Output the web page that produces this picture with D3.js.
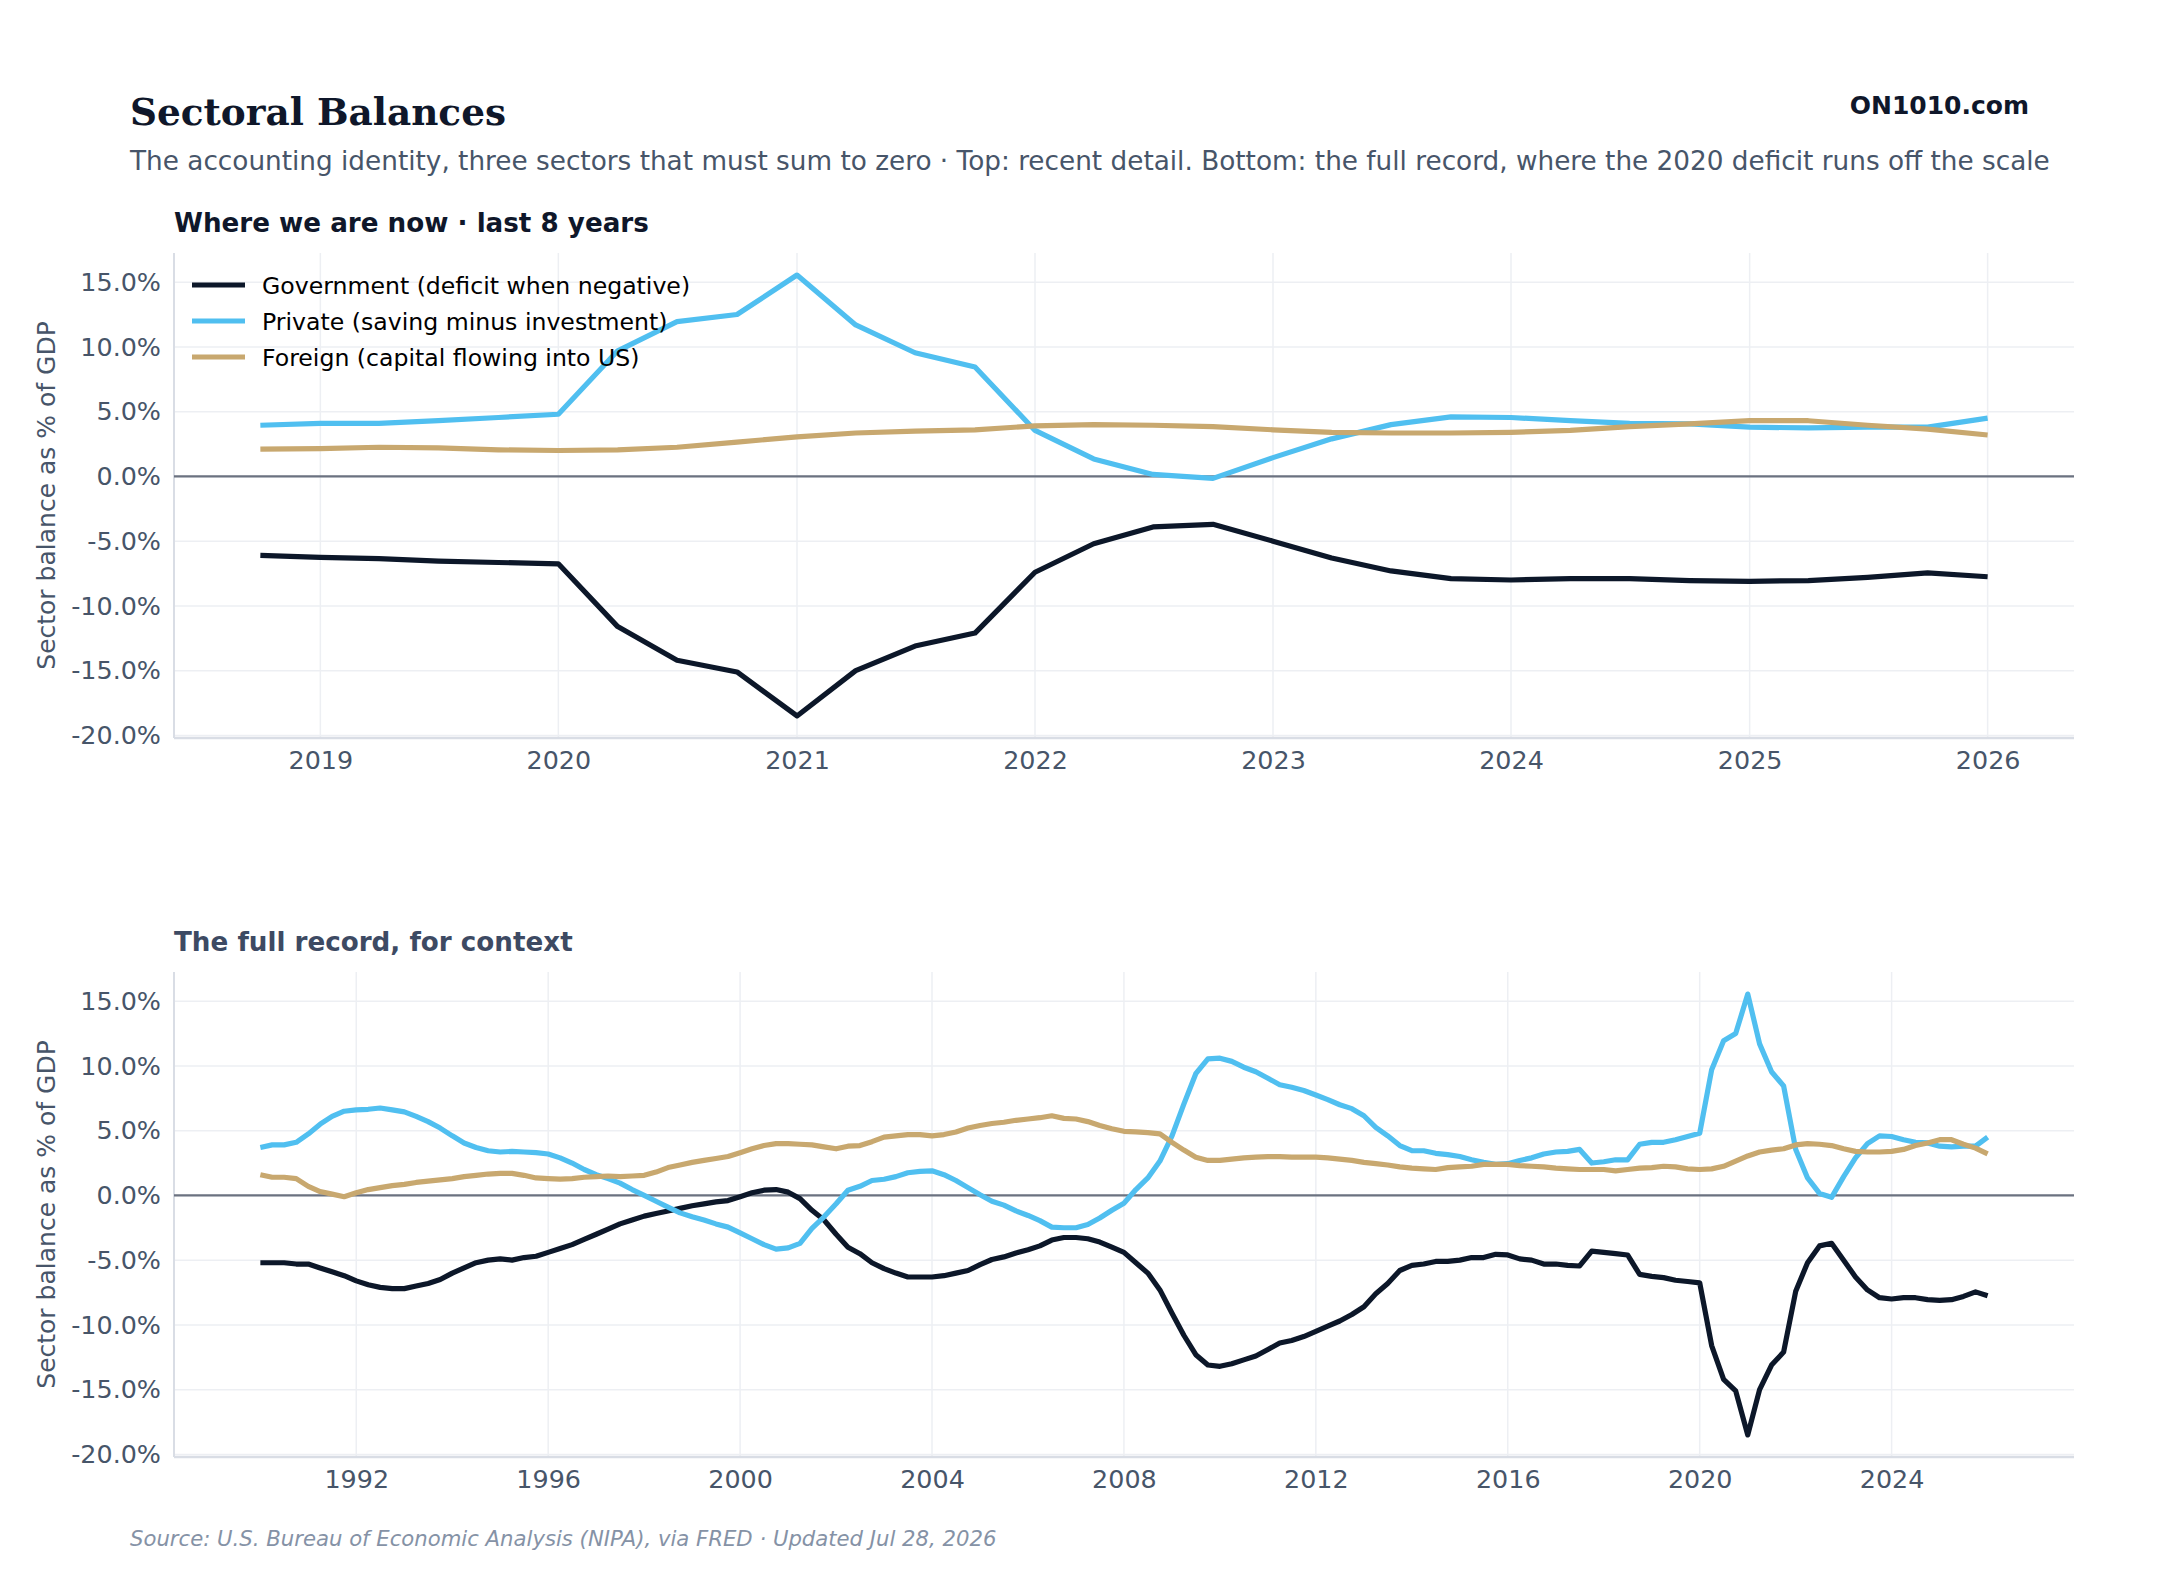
<!DOCTYPE html>
<html>
<head>
<meta charset="utf-8">
<script src="https://cdn.jsdelivr.net/npm/d3@7.9.0/dist/d3.min.js"></script>
<style>
  body { margin: 0; background: #fff; }
  svg { display: block; font-family: "DejaVu Sans", sans-serif; }
</style>
</head>
<body>
<svg id="chart" width="2160" height="1584"></svg>
<script>
// Quarterly sector balances, % of GDP, from 1990 Q1 to 2026 Q1
const firstYear = 1990;

const government = [
  -5.2, -5.2, -5.2, -5.3,     // 1990
  -5.3, -5.6, -5.9, -6.2,     // 1991
  -6.6, -6.9, -7.1, -7.2,     // 1992
  -7.2, -7.0, -6.8, -6.5,     // 1993
  -6.0, -5.6, -5.2, -5.0,     // 1994
  -4.9, -5.0, -4.8, -4.7,     // 1995
  -4.4, -4.1, -3.8, -3.4,     // 1996
  -3.0, -2.6, -2.2, -1.9,     // 1997
  -1.6, -1.4, -1.2, -1.0,     // 1998
  -0.8, -0.65, -0.5, -0.4,    // 1999
  -0.1, 0.2, 0.4, 0.45,       // 2000
  0.25, -0.25, -1.15, -1.9,   // 2001
  -3.0, -4.0, -4.5, -5.2,     // 2002
  -5.65, -6.0, -6.3, -6.3,    // 2003
  -6.3, -6.2, -6.0, -5.8,     // 2004
  -5.35, -4.95, -4.75, -4.45, // 2005
  -4.2, -3.9, -3.45, -3.25,   // 2006
  -3.25, -3.35, -3.6, -4.0,   // 2007
  -4.4, -5.2, -6.0, -7.3,     // 2008
  -9.1, -10.8, -12.3, -13.1,  // 2009
  -13.2, -13.0, -12.7, -12.4, // 2010
  -11.9, -11.4, -11.2, -10.9, // 2011
  -10.5, -10.1, -9.7, -9.2,   // 2012
  -8.6, -7.6, -6.8, -5.8,     // 2013
  -5.4, -5.3, -5.1, -5.1,     // 2014
  -5.0, -4.8, -4.8, -4.55,    // 2015
  -4.6, -4.9, -5.0, -5.3,     // 2016
  -5.3, -5.4, -5.45, -4.3,    // 2017
  -4.4, -4.5, -4.6, -6.1,     // 2018
  -6.25, -6.35, -6.55, -6.65, // 2019
  -6.75, -11.6, -14.2, -15.1, // 2020
  -18.5, -15.0, -13.1, -12.1, // 2021
  -7.4, -5.2, -3.9, -3.7,     // 2022
  -5.0, -6.3, -7.3, -7.9,     // 2023
  -8.0, -7.9, -7.9, -8.05,    // 2024
  -8.1, -8.05, -7.8, -7.45,   // 2025
  -7.75                       // 2026
];

const privateSector = [
  3.7, 3.9, 3.9, 4.1,         // 1990
  4.75, 5.5, 6.1, 6.5,        // 1991
  6.6, 6.65, 6.75, 6.6,       // 1992
  6.45, 6.1, 5.7, 5.2,        // 1993
  4.6, 4.05, 3.7, 3.45,       // 1994
  3.35, 3.4, 3.35, 3.3,       // 1995
  3.2, 2.9, 2.5, 2.0,         // 1996
  1.6, 1.3, 0.95, 0.45,       // 1997
  0.0, -0.45, -0.9, -1.35,    // 1998
  -1.65, -1.9, -2.2, -2.45,   // 1999
  -2.9, -3.35, -3.8, -4.15,   // 2000
  -4.05, -3.7, -2.55, -1.65,  // 2001
  -0.65, 0.4, 0.7, 1.15,      // 2002
  1.25, 1.45, 1.75, 1.85,     // 2003
  1.9, 1.6, 1.15, 0.6,        // 2004
  0.05, -0.45, -0.75, -1.2,   // 2005
  -1.55, -1.95, -2.45, -2.5,  // 2006
  -2.5, -2.25, -1.75, -1.15,  // 2007
  -0.6, 0.45, 1.35, 2.65,     // 2008
  4.6, 7.05, 9.4, 10.55,      // 2009
  10.6, 10.35, 9.9, 9.55,     // 2010
  9.05, 8.55, 8.35, 8.1,      // 2011
  7.75, 7.4, 7.0, 6.7,        // 2012
  6.15, 5.25, 4.6, 3.85,      // 2013
  3.45, 3.45, 3.25, 3.15,     // 2014
  3.0, 2.75, 2.55, 2.4,       // 2015
  2.45, 2.7, 2.9, 3.2,        // 2016
  3.35, 3.4, 3.55, 2.5,       // 2017
  2.6, 2.75, 2.75, 3.95,      // 2018
  4.1, 4.1, 4.3, 4.55,        // 2019
  4.8, 9.7, 11.95, 12.5,      // 2020
  15.55, 11.7, 9.55, 8.45,    // 2021
  3.55, 1.35, 0.15, -0.15,    // 2022
  1.45, 2.9, 4.0, 4.6,        // 2023
  4.55, 4.3, 4.1, 4.05,       // 2024
  3.8, 3.75, 3.8, 3.8,        // 2025
  4.5                         // 2026
];

const foreign = [
  1.6, 1.4, 1.4, 1.3,         // 1990
  0.7, 0.3, 0.1, -0.1,        // 1991
  0.2, 0.45, 0.6, 0.75,       // 1992
  0.85, 1.0, 1.1, 1.2,        // 1993
  1.3, 1.45, 1.55, 1.65,      // 1994
  1.7, 1.7, 1.55, 1.35,       // 1995
  1.3, 1.25, 1.3, 1.4,        // 1996
  1.45, 1.5, 1.45, 1.5,       // 1997
  1.55, 1.8, 2.15, 2.35,      // 1998
  2.55, 2.7, 2.85, 3.0,       // 1999
  3.3, 3.6, 3.85, 4.0,        // 2000
  4.0, 3.95, 3.9, 3.75,       // 2001
  3.6, 3.8, 3.85, 4.15,       // 2002
  4.5, 4.6, 4.7, 4.7,         // 2003
  4.6, 4.7, 4.9, 5.2,         // 2004
  5.4, 5.55, 5.65, 5.8,       // 2005
  5.9, 6.0, 6.15, 5.95,       // 2006
  5.9, 5.7, 5.4, 5.15,        // 2007
  4.95, 4.9, 4.85, 4.75,      // 2008
  4.1, 3.5, 2.95, 2.7,        // 2009
  2.7, 2.8, 2.9, 2.95,        // 2010
  3.0, 3.0, 2.95, 2.95,       // 2011
  2.95, 2.9, 2.8, 2.7,        // 2012
  2.55, 2.45, 2.35, 2.2,      // 2013
  2.1, 2.05, 2.0, 2.15,       // 2014
  2.2, 2.25, 2.4, 2.4,        // 2015
  2.4, 2.3, 2.25, 2.2,        // 2016
  2.1, 2.05, 2.0, 2.0,        // 2017
  2.0, 1.9, 2.0, 2.1,         // 2018
  2.15, 2.25, 2.2, 2.05,      // 2019
  2.0, 2.05, 2.25, 2.65,      // 2020
  3.05, 3.35, 3.5, 3.6,       // 2021
  3.9, 4.0, 3.95, 3.85,       // 2022
  3.6, 3.4, 3.35, 3.35,       // 2023
  3.4, 3.55, 3.85, 4.05,      // 2024
  4.3, 4.3, 3.95, 3.65,       // 2025
  3.2                         // 2026
];

const seriesKeys = ['gov', 'priv', 'foreign'];
const seriesNames = [
  'Government (deficit when negative)',
  'Private (saving minus investment)',
  'Foreign (capital flowing into US)'
];
const seriesColors = ['#0c1729', '#50bff0', '#c8a86f'];

const recentTicks = [2019, 2020, 2021, 2022, 2023, 2024, 2025, 2026];
const fullTicks = [1992, 1996, 2000, 2004, 2008, 2012, 2016, 2020, 2024];
const yTicks = [-20, -15, -10, -5, 0, 5, 10, 15];

// colours
const ink = '#0f172a';
const slate = '#475569';
const gridColor = '#edeff3';
const spineColor = '#d9dde5';
const lineWidth = 5.2;

// one row per quarter
let data = government.map((g, i) => ({
  date: new Date(firstYear + Math.floor(i / 4), (i % 4) * 3, 1),
  gov: g,
  priv: privateSector[i],
  foreign: foreign[i]
}));

const svg = d3.select('#chart');
const left = 174, right = 2074;
const plotW = right - left;

// Header
svg.append('text').attr('x', 130).attr('y', 125)
  .attr('font-family', '"DejaVu Serif", serif').attr('font-weight', 'bold')
  .attr('font-size', 37.4).attr('fill', ink).text('Sectoral Balances');

svg.append('text').attr('x', 130).attr('y', 170)
  .attr('font-size', 26.3).attr('fill', slate)
  .text('The accounting identity, three sectors that must sum to zero · Top: recent detail. Bottom: the full record, where the 2020 deficit runs off the scale');

svg.append('text').attr('x', 2029).attr('y', 114).attr('text-anchor', 'end')
  .attr('font-weight', 'bold').attr('font-size', 25).attr('fill', ink)
  .text('ON1010.com');

function drawPanel(cfg) {
  let rows = data.filter(d => d.date >= cfg.from);

  // 5% margins on both axes, like the original
  let [t0, t1] = d3.extent(rows, d => d.date);
  let padX = (t1 - t0) * 0.05;
  let x = d3.scaleTime()
    .domain([new Date(+t0 - padX), new Date(+t1 + padX)])
    .range([0, plotW]);

  let lo = d3.min(rows, d => Math.min(d.gov, d.priv, d.foreign));
  let hi = d3.max(rows, d => Math.max(d.gov, d.priv, d.foreign));
  let padY = (hi - lo) * 0.05;
  let y = d3.scaleLinear().domain([lo - padY, hi + padY]).range([cfg.height, 0]);

  let g = svg.append('g').attr('transform', `translate(${left},${cfg.top})`);

  // panel title
  svg.append('text').attr('x', left).attr('y', cfg.top - 21)
    .attr('font-weight', 'bold').attr('font-size', 26.2).attr('fill', cfg.titleColor)
    .text(cfg.title);

  let tickDates = cfg.ticks.map(yr => new Date(yr, 0, 1));

  // grid
  g.append('g').selectAll('line').data(tickDates).join('line')
    .attr('x1', d => x(d)).attr('x2', d => x(d))
    .attr('y1', 0).attr('y2', cfg.height)
    .attr('stroke', gridColor).attr('stroke-width', 1.5);
  g.append('g').selectAll('line').data(yTicks).join('line')
    .attr('x1', 0).attr('x2', plotW)
    .attr('y1', d => y(d)).attr('y2', d => y(d))
    .attr('stroke', gridColor).attr('stroke-width', 1.5);

  // axes
  let xAxis = g.append('g').attr('transform', `translate(0,${cfg.height})`)
    .call(d3.axisBottom(x).tickValues(tickDates).tickFormat(d3.timeFormat('%Y'))
      .tickSize(0).tickPadding(13));
  let yAxis = g.append('g')
    .call(d3.axisLeft(y).tickValues(yTicks).tickFormat(d => d.toFixed(1) + '%')
      .tickSize(0).tickPadding(13));
  [xAxis, yAxis].forEach(a => {
    a.select('.domain').remove();
    a.attr('font-family', '"DejaVu Sans", sans-serif').attr('font-size', 25.4);
    a.selectAll('text').attr('fill', slate);
  });

  // spines
  g.append('line').attr('x1', 0).attr('x2', 0).attr('y1', 0).attr('y2', cfg.height)
    .attr('stroke', spineColor).attr('stroke-width', 2);
  g.append('line').attr('x1', 0).attr('x2', plotW).attr('y1', cfg.height).attr('y2', cfg.height)
    .attr('stroke', spineColor).attr('stroke-width', 2.5);

  // y label
  svg.append('text')
    .attr('transform', `translate(55,${cfg.top + cfg.height / 2}) rotate(-90)`)
    .attr('text-anchor', 'middle').attr('font-size', 25).attr('fill', slate)
    .text('Sector balance as % of GDP');

  // zero line
  g.append('line').attr('x1', 0).attr('x2', plotW).attr('y1', y(0)).attr('y2', y(0))
    .attr('stroke', '#6b7280').attr('stroke-width', 2.2);

  // lines
  seriesKeys.forEach((key, idx) => {
    let line = d3.line().x(d => x(d.date)).y(d => y(d[key]));
    g.append('path').datum(rows)
      .attr('d', line)
      .attr('fill', 'none')
      .attr('stroke', seriesColors[idx])
      .attr('stroke-width', lineWidth)
      .attr('stroke-linejoin', 'round');
  });

  if (cfg.legend) {
    let leg = svg.append('g').attr('transform', `translate(${left + 18},${cfg.top + 32})`);
    seriesNames.forEach((name, idx) => {
      let row = leg.append('g').attr('transform', `translate(0,${idx * 36})`);
      row.append('line').attr('x1', 0).attr('x2', 53).attr('y1', 0).attr('y2', 0)
        .attr('stroke', seriesColors[idx]).attr('stroke-width', lineWidth);
      row.append('text').attr('x', 70).attr('y', 8.5)
        .attr('font-size', 23.6).attr('fill', '#000').text(name);
    });
  }
}

drawPanel({
  top: 253, height: 485,
  from: new Date(2018, 9, 1),
  ticks: recentTicks,
  title: 'Where we are now · last 8 years',
  titleColor: ink,
  legend: true
});

drawPanel({
  top: 972, height: 485,
  from: new Date(firstYear, 0, 1),
  ticks: fullTicks,
  title: 'The full record, for context',
  titleColor: '#3d4a63',
  legend: false
});

// Footer
svg.append('text').attr('x', 130).attr('y', 1546)
  .attr('font-style', 'italic').attr('font-size', 21.2).attr('fill', '#8592a6')
  .text('Source: U.S. Bureau of Economic Analysis (NIPA), via FRED · Updated Jul 28, 2026');
</script>
</body>
</html>
